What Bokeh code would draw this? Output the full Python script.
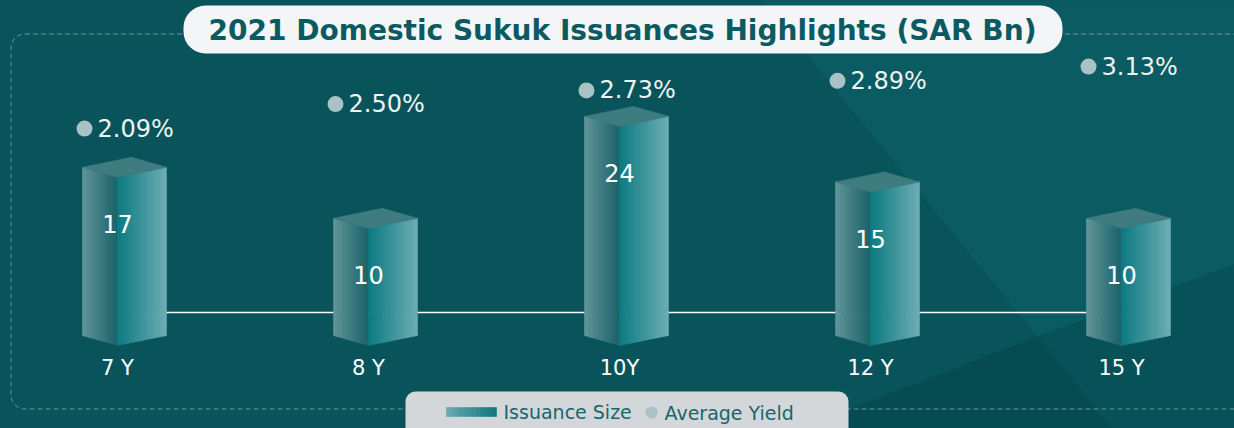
import numpy as np
from bokeh.plotting import figure
from bokeh.models import Range1d, BoxAnnotation
from bokeh.core.properties import value
from bokeh.embed import file_html
from bokeh.resources import INLINE

# ---------------- data ----------------
tenors = ["7 Y", "8 Y", "10Y", "12 Y", "15 Y"]
issuance = [17, 10, 24, 15, 10]             # SAR Bn
avg_yield = [2.09, 2.50, 2.73, 2.89, 3.13]  # %
title_text = "2021 Domestic Sukuk Issuances Highlights (SAR Bn)"
legend_labels = ["Issuance Size", "Average Yield"]

# ---------------- geometry / style ----------------
W, H = 1234, 428
PXX = 251.0        # px per category step
PXY = 7.28         # px per SAR Bn
X0 = -117 / PXX
X1 = X0 + W / PXX
Y1 = 300.6 / PXY
Y0 = Y1 - H / PXY
PXYLD = 59.6       # px per yield %
YY1 = 2.668 + 93.6 / PXYLD
YY0 = YY1 - H / PXYLD

BASE = -6.1        # prism bottom (depth below baseline)
BASELINE = -1.57
DY = 10 / PXY

BG = "#09535b"
FONT = "DejaVu Sans"


def ix(px):
    return X0 + px / PXX


def iy(py):
    return Y1 - py / PXY


def hex2rgb(h):
    h = h.lstrip("#")
    return tuple(int(h[i:i + 2], 16) for i in (0, 2, 4))


def lerp(c1, c2, t):
    a, b = hex2rgb(c1), hex2rgb(c2)
    return "#%02x%02x%02x" % tuple(int(round(a[j] + (b[j] - a[j]) * t)) for j in range(3))


p = figure(width=W, height=H, x_range=Range1d(X0, X1), y_range=Range1d(Y0, Y1),
           output_backend="svg", toolbar_location=None, min_border=0,
           x_axis_location=None, y_axis_location=None,
           background_fill_color=BG, border_fill_color=BG, outline_line_color=None)
p.extra_y_ranges = {"yield": Range1d(YY0, YY1)}
p.grid.visible = False

# ---------------- background facets ----------------
bg_polys = [
    ([753, 1250, 1250, 1037], [-10, -10, 260, 336], "#0b5b62"),
    ([1037, 1126, 755], [336, 445, 445], "#064b52"),
    ([1037, 1250, 1250, 1126], [336, 258, 445, 445], "#075159"),
]
bgr = p.patches(xs=[[ix(v) for v in a] for a, b, c in bg_polys],
                ys=[[iy(v) for v in b] for a, b, c in bg_polys],
                fill_color=[c for a, b, c in bg_polys], line_color=None)
bgr.level = "image"

# ---------------- boxes ----------------
border = BoxAnnotation(left=ix(10.5), right=ix(1260), top=iy(33.5), bottom=iy(408.5),
                       fill_alpha=0, line_color="#e3ecee", line_dash="5 3", line_width=1.3,
                       border_radius=14, level="underlay")
p.add_layout(border)
title_box = BoxAnnotation(left=ix(183), right=ix(1062), top=iy(5), bottom=iy(53),
                          fill_color="#f3f5f7", fill_alpha=1, line_color=None,
                          border_radius=22, level="underlay")
p.add_layout(title_box)
legend_box = BoxAnnotation(left=ix(405), right=ix(848), top=iy(391), bottom=iy(450),
                           fill_color="#d4d7d9", fill_alpha=1, line_color=None,
                           border_radius=10, level="underlay")
p.add_layout(legend_box)

# ---------------- baseline ----------------
p.line(x=[0, len(tenors) - 1], y=[BASELINE, BASELINE], line_color="white", line_width=1.5)

# ---------------- 3D bars ----------------
N = 14
xs, ys, cols = [], [], []
for i, v in enumerate(issuance):
    xl, xm, xr, xp = i - 35 / PXX, float(i), i + 49 / PXX, i + 14 / PXX
    for k in range(N):  # left face
        t0, t1 = k / N, (k + 1) / N
        xa, xb = xl + (xm - xl) * t0, xl + (xm - xl) * t1
        ta, tb = v + DY * (1 - t0), v + DY * (1 - t1)
        ba, bb = BASE + DY * (1 - t0), BASE + DY * (1 - t1)
        xs.append([xa, xb, xb, xa]); ys.append([ta, tb, bb, ba])
        cols.append(lerp("#62969a", "#1b6269", (k + 0.5) / N))
    for k in range(N):  # right face
        t0, t1 = k / N, (k + 1) / N
        xa, xb = xm + (xr - xm) * t0, xm + (xr - xm) * t1
        ta, tb = v + DY * t0, v + DY * t1
        ba, bb = BASE + DY * t0, BASE + DY * t1
        xs.append([xa, xb, xb, xa]); ys.append([ta, tb, bb, ba])
        cols.append(lerp("#0b7a82", "#6eaeb3", (k + 0.5) / N))
    xs.append([xl, xp, xr, xm]); ys.append([v + DY, v + 2 * DY, v + DY, v])  # top face
    cols.append("#3f7c80")

p.patches(xs=xs, ys=ys, fill_color=cols, line_color=cols, line_width=0.6)

idx = list(range(len(tenors)))
p.text(x=idx, y=issuance, text=[str(v) for v in issuance], y_offset=47,
       text_align="center", text_baseline="middle", text_color="white",
       text_font=value(FONT), text_font_size="24px")
p.text(x=idx, y=[BASE] * len(idx), text=tenors, y_offset=22,
       text_align="center", text_baseline="middle", text_color="white",
       text_font=value(FONT), text_font_size="21px")

# ---------------- yields ----------------
dot_x = [i - 33 / PXX for i in idx]
p.scatter(x=dot_x, y=avg_yield, y_range_name="yield", size=16,
          fill_color="#a9c2c6", line_color=None)
p.text(x=dot_x, y=avg_yield, y_range_name="yield", x_offset=13,
       text=["%.2f%%" % y for y in avg_yield], text_align="left", text_baseline="middle",
       text_color="#eef3f4", text_font=value(FONT), text_font_size="24px")

# ---------------- title ----------------
p.text(x=[ix(622)], y=[iy(30)], text=[title_text], text_align="center",
       text_baseline="middle", text_color="#0b5a62", text_font=value(FONT),
       text_font_size="28px", text_font_style="bold")

# ---------------- legend ----------------
M = 12
sw_xs, sw_ys, sw_c = [], [], []
for k in range(M):
    a = ix(446 + 50 * k / M)
    b = ix(446 + 50 * (k + 1) / M)
    sw_xs.append([a, b, b, a]); sw_ys.append([iy(407), iy(407), iy(416), iy(416)])
    sw_c.append(lerp("#6aaaaf", "#0f777f", (k + 0.5) / M))
p.patches(xs=sw_xs, ys=sw_ys, fill_color=sw_c, line_color=sw_c, line_width=0.6)
p.text(x=[ix(503)], y=[iy(411)], text=[legend_labels[0]], text_align="left",
       text_baseline="middle", text_color="#17666c", text_font=value(FONT), text_font_size="19px")
p.scatter(x=[ix(651)], y=[iy(412)], size=12, fill_color="#a9c2c6", line_color=None)
p.text(x=[ix(664)], y=[iy(412)], text=[legend_labels[1]], text_align="left",
       text_baseline="middle", text_color="#17666c", text_font=value(FONT), text_font_size="19px")

html = file_html(p, INLINE)
html = html.replace("</head>",
                    "<style>html,body{margin:0;padding:0;overflow:hidden;background-color:%s;}</style></head>" % BG, 1)
open("out.html", "w").write(html)
